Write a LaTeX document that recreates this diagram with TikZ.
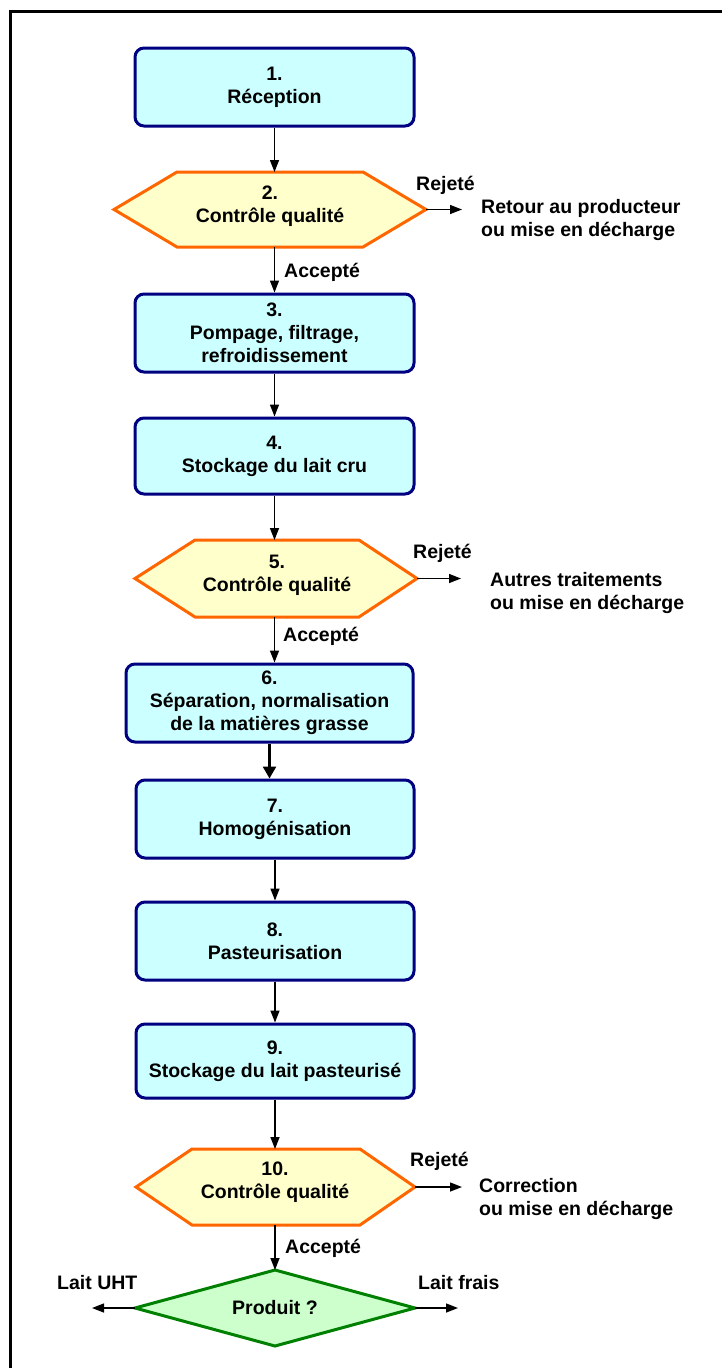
\documentclass[tikz,border=0pt]{standalone}
\usepackage{fontspec}
\setmainfont{Liberation Sans}
\usetikzlibrary{arrows.meta}
\definecolor{boxfill}{HTML}{CCFFFF}
\definecolor{boxline}{HTML}{000080}
\definecolor{hexfill}{HTML}{FFFFCC}
\definecolor{hexline}{HTML}{FF6600}
\definecolor{diafill}{HTML}{CCFFCC}
\definecolor{dialine}{HTML}{008000}
\newcommand\txtfont{\fontsize{19.5}{23}\selectfont\bfseries}
\tikzset{
  stepbox/.style={draw=boxline, fill=boxfill, line width=3pt, rounded corners=9pt,
    align=center, inner sep=0pt, font=\txtfont, minimum width=279pt, minimum height=78pt},
  hexst/.style={draw=hexline, fill=hexfill, line width=3pt, line join=miter},
  diast/.style={draw=dialine, fill=diafill, line width=3pt, line join=miter},
  txtnode/.style={align=center, inner sep=0pt, font=\txtfont},
  lbl/.style={align=left, inner sep=0pt, font=\txtfont, anchor=west},
  arr/.style={-{Triangle[length=12pt,width=9pt]}, line width=1.4pt},
  thickarr/.style={-{Triangle[length=12pt,width=13pt]}, line width=2.6pt},
}
\begin{document}
\begin{tikzpicture}[x=1pt,y=-1pt]
\useasboundingbox (0,0) rectangle (722,1368);
% frame
\draw[line width=2.6pt] (10.5,1380) -- (10.5,11.5) -- (740,11.5);

% boxes
\node[stepbox] (b1) at (274.5,87) {1.\\Réception};
\node[stepbox] (b3) at (274.5,333) {3.\\Pompage, filtrage,\\refroidissement};
\node[stepbox, minimum height=76pt] (b4) at (274.5,456) {4.\\Stockage du lait cru};
\node[stepbox, minimum width=287pt] (b6) at (269.5,703) {6.\\Séparation, normalisation\\de la matières grasse};
\node[stepbox, minimum width=278pt] (b7) at (275,819) {7.\\Homogénisation};
\node[stepbox, minimum width=278pt] (b8) at (275,941) {8.\\Pasteurisation};
\node[stepbox, minimum width=278pt, minimum height=74pt] (b9) at (275,1061) {9.\\Stockage du lait pasteurisé};

% hexagon 2
\draw[hexst] (114,209.5) coordinate (h2w) -- (177,172) -- (363,172) -- (426,209.5) coordinate (h2e)
  -- (363,247) -- (177,247) -- cycle;
\coordinate (h2n) at (274.5,172);
\coordinate (h2s) at (274.5,247);
\node[txtnode] (h2) at (270,206.5) {2.\\Contrôle qualité};

% hexagon 5
\draw[hexst] (135,578.5) coordinate (h5w) -- (195,540) -- (359,540) -- (417,578.5) coordinate (h5e)
  -- (359,617) -- (195,617) -- cycle;
\coordinate (h5n) at (274.5,540);
\coordinate (h5s) at (274.5,617);
\node[txtnode] (h5) at (277,575.5) {5.\\Contrôle qualité};

% hexagon 10
\draw[hexst] (136,1187) coordinate (h10w) -- (192,1149) -- (360,1149) -- (415,1187) coordinate (h10e)
  -- (360,1225) -- (192,1225) -- cycle;
\coordinate (h10n) at (275,1149);
\coordinate (h10s) at (275,1225);
\node[txtnode] (h10) at (275,1182) {10.\\Contrôle qualité};

% diamond
\draw[diast] (135,1308) coordinate (dw) -- (275,1270) coordinate (dn) -- (415,1308) coordinate (de)
  -- (275,1346) coordinate (ds) -- cycle;
\node[txtnode] (d) at (275,1308) {Produit ?};

% main flow arrows
\draw[arr] (b1.south) -- (h2n);
\draw[arr] (h2s) -- (b3.north);
\draw[arr] (b3.south) -- (b4.north);
\draw[arr] (b4.south) -- (h5n);
\draw[arr] (h5s) -- (h5s |- b6.north);
\draw[thickarr] (b6.south) -- (b6.south |- b7.north);
\draw[arr] (b7.south) -- (b8.north);
\draw[arr] (b8.south) -- (b9.north);
\draw[arr] (b9.south) -- (h10n);
\draw[arr] (h10s) -- (dn);

% side arrows
\coordinate (r2) at (462,209.5);
\coordinate (r5) at (461,578.5);
\coordinate (r10) at (462,1187);
\coordinate (uht) at (92,1308);
\coordinate (frais) at (458,1308);
\draw[arr] (h2e) -- (r2);
\draw[arr] (h5e) -- (r5);
\draw[arr] (h10e) -- (r10);
\draw[arr] (dw) -- (uht);
\draw[arr] (de) -- (frais);

% labels
\node[lbl] (rej2) at (416,185) {Rejeté};
\node[lbl] (out2) at (481,219.5) {Retour au producteur\\ou mise en décharge};
\node[lbl] (acc2) at (284,272) {Accepté};
\node[lbl] (rej5) at (413,553) {Rejeté};
\node[lbl] (out5) at (490,592.5) {Autres traitements\\ou mise en décharge};
\node[lbl] (acc5) at (283,636) {Accepté};
\node[lbl] (rej10) at (410,1161) {Rejeté};
\node[lbl] (out10) at (479,1199) {Correction\\ou mise en décharge};
\node[lbl] (acc10) at (285,1248) {Accepté};
\node[lbl] (luht) at (57,1283) {Lait UHT};
\node[lbl] (lfrais) at (418,1283) {Lait frais};
\end{tikzpicture}
\end{document}
